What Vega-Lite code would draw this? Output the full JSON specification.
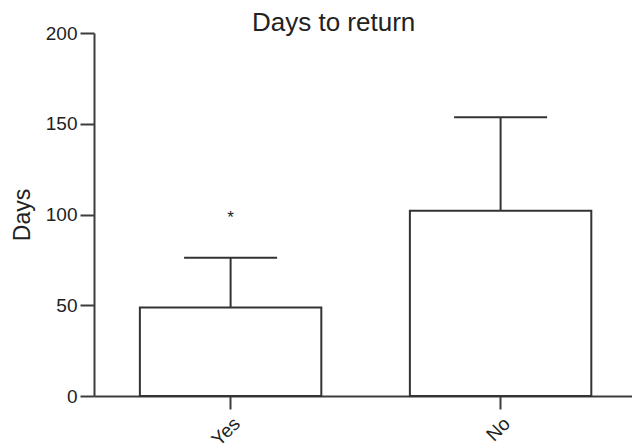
{
  "$schema": "https://vega.github.io/schema/vega-lite/v6.json",
  "autosize": {"type": "none"},
  "padding": {"left": 94, "top": 33, "right": 0, "bottom": 49},
  "width": 538,
  "height": 363,
  "background": "white",
  "config": {
    "view": {"stroke": null},
    "font": "Liberation Sans",
    "axis": {"domainColor": "#3c3c3c", "tickColor": "#3c3c3c", "domainWidth": 2, "tickWidth": 2, "labelColor": "#222", "titleColor": "#222", "labelFont": "Liberation Sans", "titleFont": "Liberation Sans", "grid": false}
  },
  "title": {"text": "Days to return", "fontSize": 26, "fontWeight": "normal", "font": "Liberation Sans", "color": "#222", "anchor": "start", "frame": "group", "dx": 158, "baseline": "alphabetic", "offset": -33},
  "data": {"values": [
    {"group": "Yes", "mean": 48.8, "upper": 76.2, "sig": "*", "sigY": 100.7},
    {"group": "No", "mean": 102.1, "upper": 153.6, "sig": "", "sigY": null}
  ]},
  "encoding": {
    "x": {"field": "group", "type": "nominal", "sort": ["Yes", "No"],
      "scale": {"paddingInner": 0.328, "paddingOuter": 0.1603, "align": 0.53},
      "axis": {"title": null, "labelAngle": -45, "labelFontSize": 19, "tickSize": 13, "labelPadding": 5}}
  },
  "layer": [
    {
      "mark": {"type": "bar", "fill": "white", "stroke": "#333", "strokeWidth": 2},
      "encoding": {
        "y": {"field": "mean", "type": "quantitative", "scale": {"domain": [0, 200], "nice": false},
          "axis": {"values": [0, 50, 100, 150, 200], "tickSize": 14, "labelFontSize": 19, "labelPadding": 3, "title": "Days", "titleFontSize": 23, "titleFontWeight": "normal", "titlePadding": 11}}
      }
    },
    {
      "mark": {"type": "rule", "stroke": "#333", "strokeWidth": 2},
      "encoding": {
        "y": {"field": "mean", "type": "quantitative"},
        "y2": {"field": "upper"}
      }
    },
    {
      "mark": {"type": "tick", "color": "#333", "size": 93, "thickness": 2, "opacity": 1},
      "encoding": {
        "y": {"field": "upper", "type": "quantitative"}
      }
    },
    {
      "transform": [{"filter": "datum.sigY != null"}],
      "mark": {"type": "text", "fontSize": 17, "color": "#222", "baseline": "alphabetic", "dy": 10},
      "encoding": {
        "y": {"field": "sigY", "type": "quantitative"},
        "text": {"field": "sig"}
      }
    }
  ]
}
